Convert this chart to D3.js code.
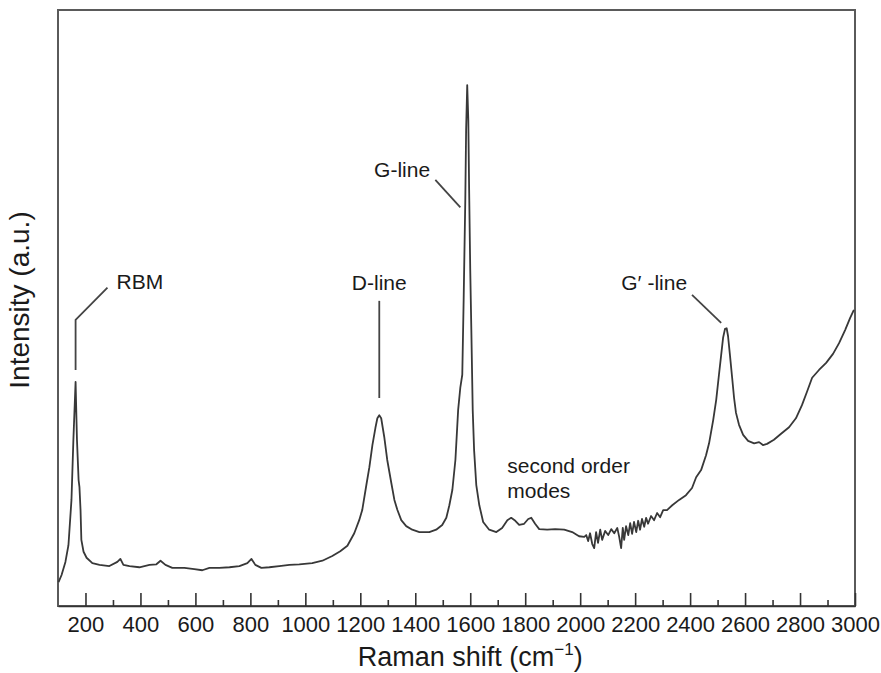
<!DOCTYPE html>
<html>
<head>
  <meta charset="utf-8">
  <title>Raman spectrum</title>
  <script src="https://d3js.org/d3.v7.min.js"></script>
  <style>
    body { margin: 0; background: #fff; }
    text { font-family: "Liberation Sans", Arial, sans-serif; fill: #1a1a1a; }
    .axis path, .axis line { stroke: #333; stroke-width: 1.6; }
    .axis text { font-size: 22px; }
    .spectrum { fill: none; stroke: #383838; stroke-width: 1.8; stroke-linejoin: round; }
    .note-line { fill: none; stroke: #444; stroke-width: 1.8; }
    .note { font-size: 21px; }
  </style>
</head>
<body>
  <svg id="chart"></svg>

  <script>
    // Raman shift (cm-1) and intensity (a.u.)
    const shift = [
      102, 113, 127, 138, 149, 156, 164, 169, 175, 178, 182, 185, 193, 204, 225, 251,
      287, 316, 327, 338, 360, 396, 433, 458, 473, 491, 516, 560, 596, 625, 651, 687,
      724, 760, 789, 804, 818, 840, 869, 905, 942, 978, 1025, 1062, 1098, 1127, 1153,
      1178, 1196, 1207, 1222, 1233, 1244, 1255, 1262, 1269, 1276, 1287, 1298, 1313,
      1324, 1335, 1349, 1367, 1389, 1415, 1451, 1476, 1498, 1513, 1524, 1535, 1546,
      1556, 1564, 1571, 1576, 1582, 1585, 1589, 1593, 1596, 1600, 1604, 1609, 1614,
      1622, 1633, 1647, 1669, 1695, 1716, 1735, 1749, 1764, 1778, 1796, 1811, 1822,
      1836, 1851, 1880, 1909, 1942, 1971, 1996, 2015, 2022, 2029, 2036, 2044, 2051,
      2058, 2065, 2073, 2080, 2091, 2102, 2113, 2124, 2135, 2142, 2149, 2155, 2160,
      2167, 2175, 2182, 2189, 2196, 2204, 2211, 2218, 2225, 2233, 2240, 2247, 2258,
      2269, 2280, 2291, 2302, 2316, 2335, 2360, 2385, 2407, 2422, 2440, 2458, 2469,
      2484, 2495, 2505, 2513, 2520, 2527, 2533, 2538, 2545, 2553, 2560, 2567, 2578,
      2593, 2611, 2633, 2651, 2665, 2680, 2705, 2731, 2760, 2785, 2807, 2825, 2844,
      2869, 2895, 2920, 2942, 2964, 2982, 2996
    ];
    const intensity = [
      4.0, 5.2, 7.4, 10.2, 17.8, 27.9, 37.6, 27.9, 21.1, 20.0, 16.1, 11.1, 9.1, 8.1, 7.2, 6.9,
      6.7, 7.4, 7.9, 6.9, 6.7, 6.5, 6.9, 7.0, 7.6, 6.9, 6.4, 6.4, 6.2, 6.0, 6.4, 6.4,
      6.5, 6.7, 7.2, 7.9, 6.9, 6.4, 6.5, 6.7, 6.9, 7.0, 7.2, 7.6, 8.4, 9.2, 10.1,
      12.2, 14.4, 16.1, 20.3, 23.3, 27.0, 29.9, 31.5, 32.0, 31.5, 28.4, 24.5, 20.6,
      17.8, 16.1, 14.4, 13.4, 12.8, 12.4, 12.4, 12.8, 13.6, 14.8, 16.9, 19.5, 24.5,
      32.9, 36.7, 38.8, 51.3, 68.1, 79.9, 87.4, 81.5, 69.8, 56.4, 46.3, 32.9, 26.2,
      20.3, 16.9, 14.1, 12.8, 12.4, 13.1, 14.4, 14.8, 14.3, 13.6, 13.8, 14.6, 14.8,
      13.8, 12.9, 12.8, 12.9, 12.8, 12.4, 11.7, 11.6, 11.9, 10.9, 12.2, 10.4, 9.7,
      12.4, 10.6, 12.8, 11.1, 12.6, 11.9, 12.9, 12.2, 13.1, 11.6, 9.7, 13.1, 11.1,
      13.4, 11.9, 13.9, 12.1, 14.1, 12.4, 14.3, 12.8, 14.6, 13.3, 14.8, 13.8, 15.1,
      14.4, 15.6, 14.9, 16.1, 16.1, 16.9, 17.8, 18.6, 19.8, 21.6, 22.8, 25.3, 27.3,
      31.2, 34.6, 38.8, 42.1, 45.0, 46.5, 46.6, 45.3, 42.1, 38.3, 34.9, 32.4, 30.4,
      28.7, 27.7, 27.3, 27.5, 27.0, 27.2, 27.9, 28.9, 30.0, 31.5, 33.7, 35.9, 38.3,
      39.6, 40.8, 42.3, 44.1, 46.3, 48.3, 49.7
    ];

    const majorTicks = d3.range(200, 3001, 200);
    const minorTicks = d3.range(300, 3000, 200);

    // peak labels: leader line in data units, label anchor in data units
    const notes = [
      { label: "RBM",     path: [[164, 39.6], [164, 48.0], [280, 53.4]], at: [313, 53.2], anchor: "start" },
      { label: "D-line",  path: [[1269, 34.9], [1269, 51.2]],            at: [1269, 53.0], anchor: "middle" },
      { label: "G-line",  path: [[1473, 71.5], [1564, 66.9]],            at: [1454, 72.0], anchor: "end" },
      { label: "G\u2032 -line", path: [[2407, 52.2], [2513, 47.5]],      at: [2389, 53.0], anchor: "end" }
    ];
    const modesText = ["second order", "modes"];
    const modesAt = [1735, 22.3];

    const width = 881;
    const height = 673;
    const margin = { top: 10, right: 26, bottom: 67, left: 58 };
    const chartWidth = width - margin.left - margin.right;
    const chartHeight = height - margin.top - margin.bottom;

    const svg = d3.select("#chart")
                  .attr("width", width)
                  .attr("height", height);

    const chart = svg.append("g")
                     .attr("transform", `translate(${margin.left},${margin.top})`);

    const xScale = d3.scaleLinear().domain([100, 3000]).range([0, chartWidth]);
    const yScale = d3.scaleLinear().domain([0, 100]).range([chartHeight, 0]);

    // frame
    chart.append("rect")
         .attr("width", chartWidth)
         .attr("height", chartHeight)
         .attr("fill", "none")
         .attr("stroke", "#5a5a5a")
         .attr("stroke-width", 2);

    // x axis, ticks pointing inward
    chart.append("g")
         .attr("class", "axis")
         .attr("transform", `translate(0,${chartHeight})`)
         .call(d3.axisBottom(xScale).tickValues(majorTicks).tickFormat(d3.format("d"))
                 .tickSizeInner(-13).tickSizeOuter(0).tickPadding(10));

    chart.append("g")
         .attr("class", "axis")
         .attr("transform", `translate(0,${chartHeight})`)
         .call(d3.axisBottom(xScale).tickValues(minorTicks).tickFormat("")
                 .tickSizeInner(-6).tickSizeOuter(0))
         .select(".domain").remove();

    // spectrum
    const line = d3.line()
                   .x((d, i) => xScale(shift[i]))
                   .y(d => yScale(d));
    chart.append("path")
         .datum(intensity)
         .attr("class", "spectrum")
         .attr("d", line);

    // annotations
    notes.forEach(n => {
      chart.append("path")
           .attr("class", "note-line")
           .attr("d", d3.line().x(p => xScale(p[0])).y(p => yScale(p[1]))(n.path));
      chart.append("text")
           .attr("class", "note")
           .attr("x", xScale(n.at[0]))
           .attr("y", yScale(n.at[1]))
           .attr("text-anchor", n.anchor)
           .text(n.label);
    });

    const modes = chart.append("text")
                       .attr("class", "note")
                       .attr("x", xScale(modesAt[0]))
                       .attr("y", yScale(modesAt[1]));
    modes.selectAll("tspan")
         .data(modesText)
         .enter()
         .append("tspan")
         .attr("x", xScale(modesAt[0]))
         .attr("dy", (d, i) => i === 0 ? 0 : 25)
         .text(d => d);

    // axis titles
    const xTitle = svg.append("text")
                      .attr("x", margin.left + xScale(1600))
                      .attr("y", 666)
                      .attr("text-anchor", "middle")
                      .style("font-size", "27px");
    xTitle.append("tspan").text("Raman shift (cm");
    xTitle.append("tspan").attr("dy", -11).style("font-size", "17px").text("\u22121");
    xTitle.append("tspan").attr("dy", 11).text(")");

    svg.append("text")
       .attr("transform", `translate(29,${margin.top + chartHeight / 2 - 8}) rotate(-90)`)
       .attr("text-anchor", "middle")
       .style("font-size", "28px")
       .text("Intensity (a.u.)");
  </script>
</body>
</html>
